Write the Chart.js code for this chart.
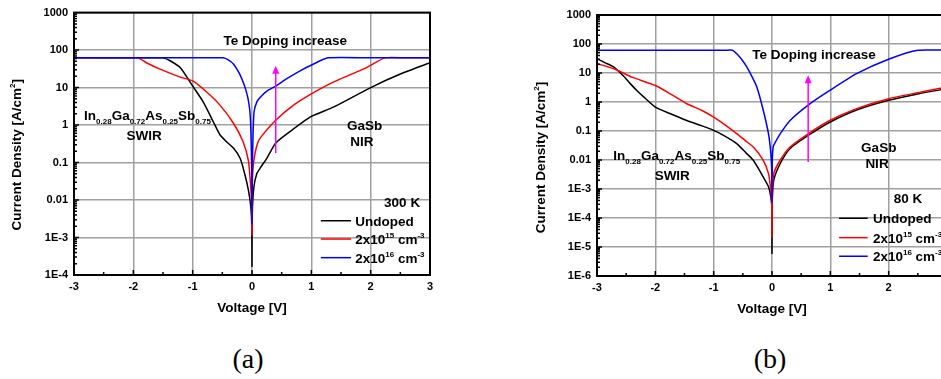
<!DOCTYPE html>
<html>
<head>
<meta charset="utf-8">
<script src="https://cdn.jsdelivr.net/npm/chart.js@4"></script>
<style>
  body { margin: 0; width: 941px; height: 379px; overflow: hidden; background: #fff; position: relative; }
  canvas { position: absolute; top: 0; }
  #chartA { left: 0; }
  #chartB { left: 470px; }
  .cap { position: absolute; top: 343px; width: 100px; text-align: center; font: 28px "Liberation Serif", "Times New Roman", serif; }
</style>
</head>
<body>
<canvas id="chartA" width="470" height="330"></canvas>
<canvas id="chartB" width="517" height="330"></canvas>
<div class="cap" style="left:198px">(a)</div>
<div class="cap" style="left:720px">(b)</div>
<script>
// tick labels
const voltTicks = [-3, -2, -1, 0, 1, 2, 3];
const tickValsA = [1e-4, 1e-3, 0.01, 0.1, 1, 10, 100, 1000];
const tickLabelsA = ['1E-4', '1E-3', '0.01', '0.1', '1', '10', '100', '1000'];
const tickValsB = [1e-6, 1e-5, 1e-4, 1e-3, 0.01, 0.1, 1, 10, 100, 1000];
const tickLabelsB = ['1E-6', '1E-5', '1E-4', '1E-3', '0.01', '0.1', '1', '10', '100', '1000'];

// (a) 300 K
const voltA_undoped = [-3, -1.6, -1.5, -1.38, -1.2, -1.0, -0.82, -0.65, -0.54, -0.43, -0.31, -0.2, -0.12, -0.06, -0.02, -0.004, 0, 0.004, 0.03, 0.08, 0.14, 0.25, 0.4, 0.64, 1.0, 1.37, 2.0, 2.5, 3.0];
const jA_undoped    = [62, 62, 62, 52, 33, 11, 4.1, 1.2, 0.55, 0.36, 0.24, 0.13, 0.048, 0.018, 0.0065, 0.002, 1.7e-4, 0.004, 0.021, 0.05, 0.072, 0.13, 0.33, 0.67, 1.7, 3.0, 10, 23, 46];
const voltA_2e15 = [-3, -2.1, -1.92, -1.78, -1.55, -1.21, -1.0, -0.76, -0.54, -0.31, -0.15, -0.06, -0.02, -0.004, 0, 0.004, 0.03, 0.1, 0.2, 0.4, 0.7, 1.0, 1.37, 1.93, 2.24, 2.6, 3];
const jA_2e15    = [62, 62, 62, 46, 31, 19, 15, 7.5, 3.4, 1.1, 0.36, 0.11, 0.02, 0.006, 1.2e-3, 0.025, 0.11, 0.35, 0.6, 1.35, 3.4, 6.8, 14, 34, 62, 62, 62];
const voltA_2e16 = [-3, -0.7, -0.49, -0.4, -0.31, -0.22, -0.15, -0.1, -0.056, -0.03, -0.017, -0.004, 0, 0.004, 0.017, 0.034, 0.08, 0.14, 0.25, 0.4, 0.58, 0.81, 1.03, 1.28, 2, 3];
const jA_2e16    = [62, 62, 62, 55, 42, 25, 14, 8.3, 4.1, 1.8, 0.55, 0.05, 2.3e-3, 0.05, 0.5, 2.2, 4.1, 5.5, 8, 11, 17, 28, 42, 62, 62, 62];

// (b) 80 K
const voltB_undoped = [-3, -2.85, -2.71, -2.55, -2.43, -2.3, -2.2, -2.0, -1.75, -1.46, -1.2, -1.0, -0.8, -0.6, -0.45, -0.32, -0.15, -0.06, -0.02, -0.004, 0, 0.004, 0.03, 0.14, 0.31, 0.62, 0.99, 1.45, 2.0, 2.5, 3];
const jB_undoped    = [31, 22, 16, 8, 4.3, 2.3, 1.5, 0.67, 0.40, 0.23, 0.15, 0.105, 0.065, 0.036, 0.018, 0.0098, 0.0026, 0.0012, 5.2e-4, 2.5e-4, 6e-6, 3.5e-4, 0.002, 0.0075, 0.025, 0.07, 0.2, 0.53, 1.15, 1.9, 2.9];
const voltB_2e15 = [-3, -2.71, -2.4, -2.0, -1.7, -1.46, -1.2, -1.0, -0.8, -0.6, -0.45, -0.32, -0.15, -0.06, -0.02, -0.004, 0, 0.004, 0.03, 0.14, 0.31, 0.62, 0.99, 1.45, 2.0, 2.5, 3];
const jB_2e15    = [21, 14, 7.2, 3.7, 1.7, 0.87, 0.51, 0.30, 0.16, 0.08, 0.045, 0.028, 0.0098, 0.0034, 8.9e-4, 3e-4, 2.2e-5, 5e-4, 0.0034, 0.0098, 0.028, 0.08, 0.23, 0.59, 1.3, 2.1, 3.3];
const voltB_2e16 = [-3, -0.8, -0.68, -0.6, -0.5, -0.43, -0.35, -0.26, -0.15, -0.06, -0.02, -0.004, 0, 0.004, 0.02, 0.06, 0.14, 0.31, 0.62, 0.99, 1.45, 2.02, 2.5, 3];
const jB_2e16    = [61, 61, 61, 45, 26, 16, 8, 3.3, 0.52, 0.08, 0.017, 0.004, 3.5e-4, 0.008, 0.028, 0.042, 0.08, 0.23, 0.78, 2.5, 9.5, 31, 61, 61];

// labels with sub/superscripts: 0 normal, 1 sub, 2 sup
const legendLabels = [
  [['Undoped', 0]],
  [['2x10', 0], ['15', 2], [' cm', 0], ['-3', 2]],
  [['2x10', 0], ['16', 2], [' cm', 0], ['-3', 2]]
];
const seriesColors = ['#000000', '#ff0000', '#0000ff'];
const alloyLabel = [['In', 0], ['0.28', 1], ['Ga', 0], ['0.72', 1], ['As', 0], ['0.25', 1], ['Sb', 0], ['0.75', 1]];
const yTitle = [['Current Density [A/cm', 0], ['2', 2], [']', 0]];

const FAM = '"Liberation Sans", Arial, sans-serif';

function richText(ctx, parts, x, y, align) {
  let w = 0;
  for (const [t, k] of parts) { ctx.font = 'bold ' + (k ? 8 : 13.5) + 'px ' + FAM; w += ctx.measureText(t).width; }
  let cx = align === 'center' ? x - w / 2 : x;
  ctx.textAlign = 'left';
  ctx.textBaseline = 'alphabetic';
  for (const [t, k] of parts) {
    ctx.font = 'bold ' + (k ? 8 : 13.5) + 'px ' + FAM;
    ctx.fillText(t, cx, y + (k === 1 ? 4 : k === 2 ? -6 : 0));
    cx += ctx.measureText(t).width;
  }
}

// frame, minor ticks, notes, legend, arrow, axis titles
const decor = {
  id: 'decor',
  afterDraw(chart, args, opt) {
    const { ctx, chartArea: ca } = chart;
    const x = chart.scales.x, y = chart.scales.y;
    ctx.save();
    ctx.strokeStyle = '#000';
    ctx.fillStyle = '#000';
    ctx.lineWidth = 1.5;
    ctx.beginPath();
    for (let i = 0; i <= 12; i++) {
      const v = -3 + i * 0.5;
      const px = x.getPixelForValue(v);
      ctx.moveTo(px, ca.bottom);
      ctx.lineTo(px, ca.bottom - (i % 2 ? 3 : 5));
    }
    const e0 = Math.round(Math.log10(y.min)), e1 = Math.round(Math.log10(y.max));
    for (let e = e0; e < e1; e++) {
      for (let k = 1; k < 10; k++) {
        const py = y.getPixelForValue(k * Math.pow(10, e));
        ctx.moveTo(ca.left, py);
        ctx.lineTo(ca.left + (k === 1 ? 5 : 3), py);
      }
    }
    ctx.stroke();
    ctx.lineWidth = 2;
    ctx.strokeRect(ca.left, ca.top, ca.right - ca.left, ca.bottom - ca.top);

    // arrow
    const ax = x.getPixelForValue(opt.arrow.v);
    const ay0 = y.getPixelForValue(opt.arrow.from), ay1 = y.getPixelForValue(opt.arrow.to);
    ctx.strokeStyle = '#ff00ff';
    ctx.fillStyle = '#ff00ff';
    ctx.lineWidth = 1.5;
    ctx.beginPath(); ctx.moveTo(ax, ay0); ctx.lineTo(ax, ay1 + 6); ctx.stroke();
    ctx.beginPath(); ctx.moveTo(ax, ay1); ctx.lineTo(ax - 3.5, ay1 + 8); ctx.lineTo(ax + 3.5, ay1 + 8); ctx.closePath(); ctx.fill();

    ctx.fillStyle = '#000';
    for (const n of opt.notes) {
      richText(ctx, n.parts, x.getPixelForValue(n.v), y.getPixelForValue(n.j) + 5, n.align);
    }
    // legend
    const lg = opt.legend;
    lg.rows.forEach((j, i) => {
      const py = y.getPixelForValue(j);
      ctx.strokeStyle = seriesColors[i];
      ctx.lineWidth = 1.5;
      ctx.beginPath();
      ctx.moveTo(x.getPixelForValue(lg.x0), py);
      ctx.lineTo(x.getPixelForValue(lg.x1), py);
      ctx.stroke();
      ctx.fillStyle = '#000';
      richText(ctx, legendLabels[i], x.getPixelForValue(lg.tx), py + 5, 'left');
    });

    richText(ctx, [['Voltage [V]', 0]], (ca.left + ca.right) / 2, ca.bottom + 37, 'center');
    ctx.translate(ca.left - opt.yTitleGap, (ca.top + ca.bottom) / 2 + opt.yTitleShift);
    ctx.rotate(-Math.PI / 2);
    richText(ctx, yTitle, 0, 5, 'center');
    ctx.restore();
  }
};

function line(xs, ys, color, order) {
  return {
    data: xs.map((v, i) => ({ x: v, y: ys[i] })),
    borderColor: color, borderWidth: 1.5, pointRadius: 0, tension: 0.2, fill: false, order: order
  };
}

function makeChart(id, sets, yMin, tickVals, tickLabels, leftW, padTop, axisH, decorOpt) {
  const tickFont = { family: FAM, size: 11, weight: 'bold' };
  const grid = { color: '#a0a0a0', lineWidth: 1.5, drawTicks: false };
  new Chart(document.getElementById(id), {
    type: 'line',
    data: { datasets: sets },
    plugins: [decor],
    options: {
      responsive: false, animation: false, devicePixelRatio: 1,
      layout: { padding: { left: 0, top: padTop, right: 40, bottom: 0 } },
      plugins: { legend: { display: false }, tooltip: { enabled: false }, decor: decorOpt },
      scales: {
        x: {
          type: 'linear', min: -3, max: 3,
          afterBuildTicks: s => { s.ticks = voltTicks.map(v => ({ value: v })); },
          afterFit: s => { s.height = axisH; },
          ticks: { font: tickFont, color: '#000', padding: 5, maxRotation: 0, autoSkip: false, callback: v => String(v) },
          grid: grid, border: { display: false }
        },
        y: {
          type: 'logarithmic', min: yMin, max: 1000,
          afterBuildTicks: s => { s.ticks = tickVals.map(v => ({ value: v })); },
          afterFit: s => { s.width = leftW; },
          ticks: { font: tickFont, color: '#000', padding: 6, autoSkip: false, callback: (v, i) => tickLabels[i] },
          grid: grid, border: { display: false }
        }
      }
    }
  });
}

makeChart('chartA', [
  line(voltA_undoped, jA_undoped, seriesColors[0], 3),
  line(voltA_2e15, jA_2e15, seriesColors[1], 2),
  line(voltA_2e16, jA_2e16, seriesColors[2], 1)
], 1e-4, tickValsA, tickLabelsA, 74, 9, 55, {
  notes: [
    { v: 0.56, j: 186, parts: [['Te Doping increase', 0]], align: 'center' },
    { v: -2.83, j: 1.9, parts: alloyLabel, align: 'left' },
    { v: -1.82, j: 0.55, parts: [['SWIR', 0]], align: 'center' },
    { v: 1.9, j: 1.0, parts: [['GaSb', 0]], align: 'center' },
    { v: 1.85, j: 0.38, parts: [['NIR', 0]], align: 'center' },
    { v: 2.53, j: 0.0089, parts: [['300 K', 0]], align: 'center' }
  ],
  legend: { x0: 1.16, x1: 1.67, tx: 1.74, rows: [2.8e-3, 9.1e-4, 2.9e-4] },
  arrow: { v: 0.4, from: 0.18, to: 38 },
  yTitleGap: 58, yTitleShift: 11
});

makeChart('chartB', [
  line(voltB_undoped, jB_undoped, seriesColors[0], 3),
  line(voltB_2e15, jB_2e15, seriesColors[1], 2),
  line(voltB_2e16, jB_2e16, seriesColors[2], 1)
], 1e-6, tickValsB, tickLabelsB, 127, 15, 54, {
  notes: [
    { v: 0.72, j: 44, parts: [['Te Doping increase', 0]], align: 'center' },
    { v: -2.72, j: 0.0144, parts: alloyLabel, align: 'left' },
    { v: -1.71, j: 0.003, parts: [['SWIR', 0]], align: 'center' },
    { v: 1.83, j: 0.027, parts: [['GaSb', 0]], align: 'center' },
    { v: 1.80, j: 0.0078, parts: [['NIR', 0]], align: 'center' },
    { v: 2.33, j: 4.8e-4, parts: [['80 K', 0]], align: 'center' }
  ],
  legend: { x0: 1.15, x1: 1.64, tx: 1.73, rows: [9.8e-5, 2.1e-5, 4.8e-6] },
  arrow: { v: 0.62, from: 0.0085, to: 8.3 },
  yTitleGap: 57, yTitleShift: 12
});
</script>
</body>
</html>
